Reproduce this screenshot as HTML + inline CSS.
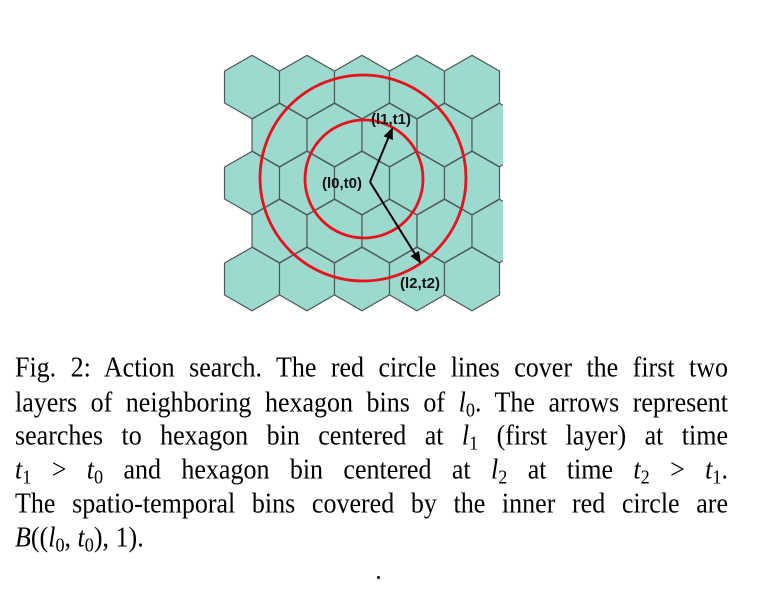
<!DOCTYPE html>
<html><head><meta charset="utf-8"><style>
body{margin:0;width:773px;height:600px;background:#fff;position:relative;overflow:hidden}
.ln{position:absolute;left:15px;width:713px;font-family:"Liberation Serif",serif;font-size:26px;line-height:30px;color:#000;text-align:justify;text-align-last:justify;white-space:nowrap;transform:scaleY(1.08);transform-origin:0 50%}
.ln i{font-style:italic}
sub{font-size:0.7em;vertical-align:-0.25em;line-height:0}
</style></head><body>
<svg width="773" height="330" style="position:absolute;left:0;top:0" xmlns="http://www.w3.org/2000/svg">
<defs><clipPath id="cp"><rect x="222" y="40" width="281" height="280"/></clipPath>
<marker id="ah" markerWidth="6" markerHeight="6" refX="5" refY="3" orient="auto"><path d="M0,0.5 L6,3 L0,5.5 z" fill="#000"/></marker></defs>
<g id="hexes" clip-path="url(#cp)"></g>
<circle cx="364" cy="179" r="59" fill="none" stroke="#e8121c" stroke-width="2.8"/>
<circle cx="363" cy="178" r="103" fill="none" stroke="#e8121c" stroke-width="2.8"/>
<line x1="370" y1="182" x2="392" y2="129" stroke="#000" stroke-width="2" marker-end="url(#ah)"/>
<line x1="370" y1="182" x2="420" y2="262" stroke="#000" stroke-width="2" marker-end="url(#ah)"/>
<g font-family="Liberation Sans, sans-serif" font-weight="bold" font-size="15" fill="#111">
<text x="322" y="188">(l0,t0)</text>
<text x="371" y="124">(l1,t1)</text>
<text x="400" y="288">(l2,t2)</text>
</g>
</svg>
<div class="ln" style="top:353px">Fig. 2: Action search. The red circle lines cover the first two</div>
<div class="ln" style="top:388px">layers of neighboring hexagon bins of <i>l</i><sub>0</sub>. The arrows represent</div>
<div class="ln" style="top:421px">searches to hexagon bin centered at <i>l</i><sub>1</sub> (first layer) at time</div>
<div class="ln" style="top:455px"><i>t</i><sub>1</sub> &gt; <i>t</i><sub>0</sub> and hexagon bin centered at <i>l</i><sub>2</sub> at time <i>t</i><sub>2</sub> &gt; <i>t</i><sub>1</sub>.</div>
<div class="ln" style="top:489px">The spatio-temporal bins covered by the inner red circle are</div>
<div class="ln" style="top:523px;text-align-last:left"><i>B</i>((<i>l</i><sub>0</sub>, <i>t</i><sub>0</sub>), 1).</div>
<div style="position:absolute;left:377px;top:576px;width:3px;height:3px;background:#000;border-radius:50%"></div>
<script>
const rowYs=[87,135,183,231,279];
const rowStartX=[252,279.5,252,279.5,252];
const colsPerRow=[5,5,5,5,5];
const R=31.75, W=55;
const g=document.getElementById('hexes');
rowYs.forEach((cy,ri)=>{
  for(let c=0;c<colsPerRow[ri];c++){
    const cx=rowStartX[ri]+c*W;
    const pts=[];
    for(let k=0;k<6;k++){const a=Math.PI/180*(60*k-90);pts.push((cx+R*Math.cos(a)).toFixed(1)+','+(cy+R*Math.sin(a)).toFixed(1));}
    const p=document.createElementNS('http://www.w3.org/2000/svg','polygon');
    p.setAttribute('points',pts.join(' '));
    p.setAttribute('fill','#9cdad0');p.setAttribute('stroke','#4f5a58');p.setAttribute('stroke-width','1.2');
    
    
    g.appendChild(p);
  }
});
</script>
</body></html>
